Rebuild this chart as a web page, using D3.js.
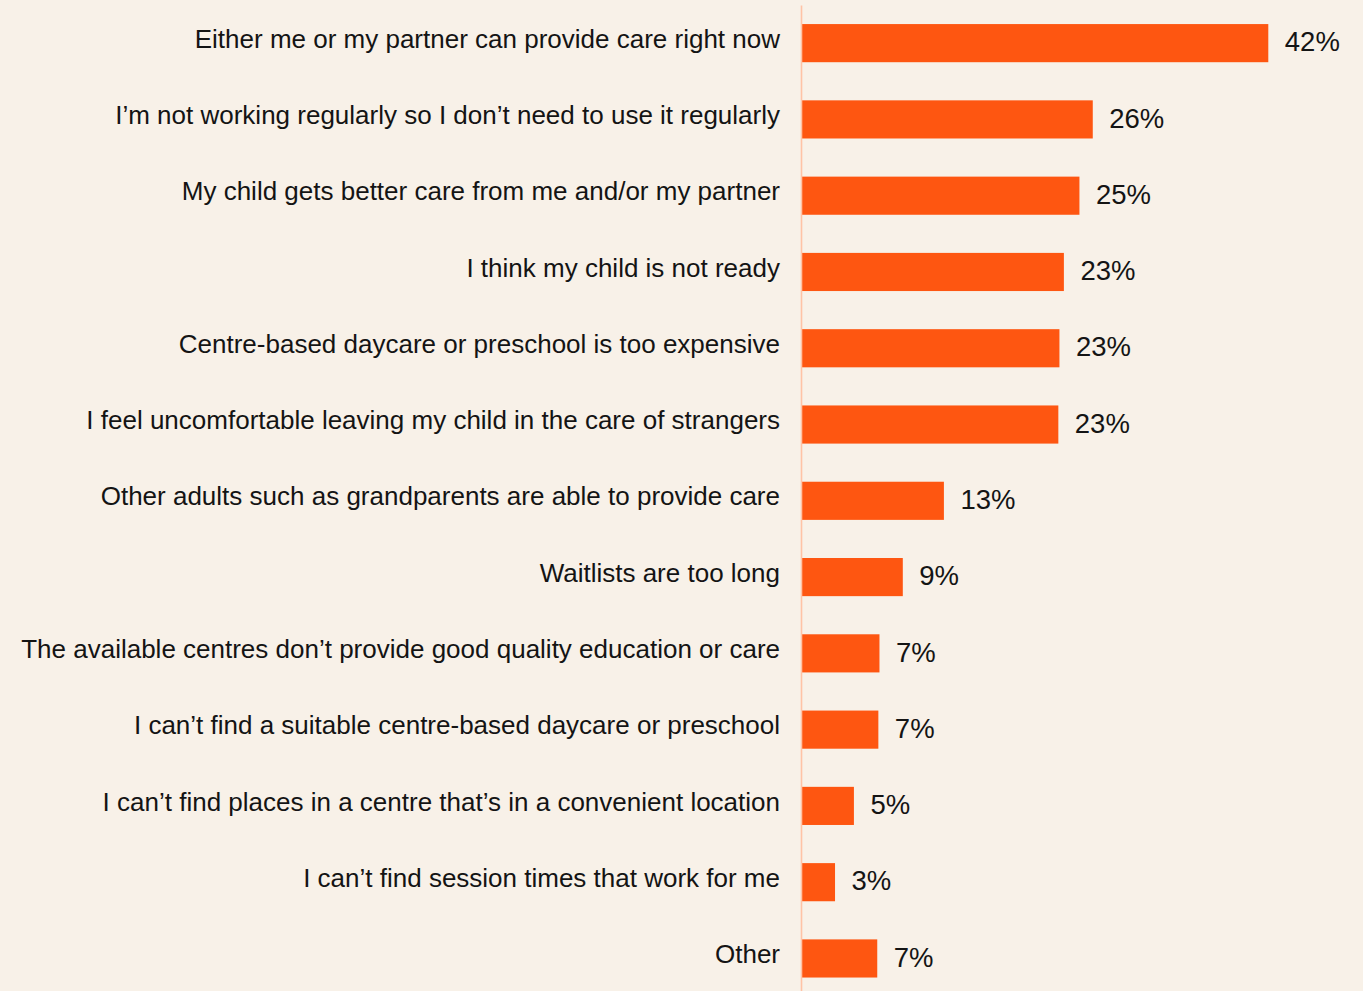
<!DOCTYPE html>
<html>
<head>
<meta charset="utf-8">
<script src="https://cdn.jsdelivr.net/npm/d3@7"></script>
<style>
  html, body { margin: 0; padding: 0; background: #f8f1e8; }
  svg { display: block; }
</style>
</head>
<body>
<svg id="chart" width="1363" height="991"></svg>
<script>
const categories = [
  "Either me or my partner can provide care right now",
  "I\u2019m not working regularly so I don\u2019t need to use it regularly",
  "My child gets better care from me and/or my partner",
  "I think my child is not ready",
  "Centre-based daycare or preschool is too expensive",
  "I feel uncomfortable leaving my child in the care of strangers",
  "Other adults such as grandparents are able to provide care",
  "Waitlists are too long",
  "The available centres don\u2019t provide good quality education or care",
  "I can\u2019t find a suitable centre-based daycare or preschool",
  "I can\u2019t find places in a centre that\u2019s in a convenient location",
  "I can\u2019t find session times that work for me",
  "Other"
];
const values = [42.0, 26.2, 25.0, 23.6, 23.2, 23.1, 12.8, 9.1, 7.0, 6.9, 4.7, 3.0, 6.8];
const valueLabels = ["42%", "26%", "25%", "23%", "23%", "23%", "13%", "9%", "7%", "7%", "5%", "3%", "7%"];

const W = 1363, H = 991;
const x0 = 801.7;
const svg = d3.select("#chart");

svg.append("rect").attr("width", W).attr("height", H).attr("fill", "#f8f1e8");

const x = d3.scaleLinear().domain([0, 42]).range([x0, 1268.3]);
const y = d3.scaleBand().domain(categories).range([5, 996.6]).paddingInner(0.5).paddingOuter(0.25);

// bars
svg.append("g").selectAll("rect")
  .data(values)
  .join("rect")
  .attr("x", x(0))
  .attr("y", (d, i) => y(categories[i]))
  .attr("width", d => x(d) - x(0))
  .attr("height", y.bandwidth())
  .attr("fill", "#fe5611");

// axis (category labels + vertical line)
const axis = svg.append("g")
  .attr("transform", `translate(${x0 - 0.7},0)`)
  .call(d3.axisLeft(y).tickSize(0).tickPadding(21));
axis.select(".domain").attr("stroke", "#ffc3a6").attr("stroke-width", 1.6);
axis.selectAll(".tick text")
  .attr("font-family", "'Liberation Sans', Arial, sans-serif")
  .attr("font-size", 26)
  .attr("fill", "#141414")
  .attr("dy", "0.18em");

// value labels
svg.append("g").selectAll("text")
  .data(values)
  .join("text")
  .attr("x", d => x(d) + 16.5)
  .attr("y", (d, i) => y(categories[i]) + y.bandwidth() / 2)
  .attr("dy", "0.3em")
  .attr("font-family", "'Liberation Sans', Arial, sans-serif")
  .attr("font-size", 27.5)
  .attr("fill", "#141414")
  .text((d, i) => valueLabels[i]);
</script>
</body>
</html>
